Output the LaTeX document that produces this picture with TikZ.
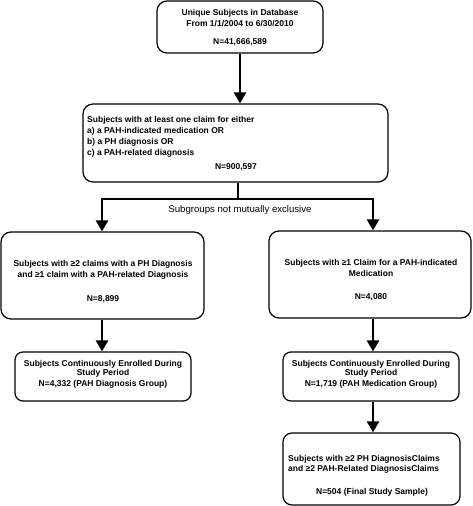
\documentclass[tikz,border=0pt]{standalone}
\usepackage{fontspec}
\setmainfont{Liberation Sans}
\usetikzlibrary{arrows.meta}
\begin{document}
\begin{tikzpicture}[x=1pt,y=-1pt,
  box/.style={draw,line width=1.2pt,rounded corners=10pt,inner sep=0pt},
  btxt/.style={font=\bfseries\fontsize{8.5}{11}\selectfont,inner sep=0pt},
  conn/.style={line width=2.6pt},
  arr/.style={line width=2.6pt,-{Triangle[width=12pt,length=11pt]}}
]
\useasboundingbox (0,0) rectangle (473,506);
% boxes
\node[box,minimum width=166pt,minimum height=52pt] (b1) at (240,27) {};
\node[box,minimum width=305pt,minimum height=78pt] (b2) at (235.5,143) {};
\node[box,minimum width=203pt,minimum height=87pt] (l1) at (102.5,275.5) {};
\node[box,minimum width=202pt,minimum height=87pt] (r1) at (370,274.5) {};
\node[box,rounded corners=8pt,minimum width=176pt,minimum height=49pt] (l2) at (103,376.5) {};
\node[box,rounded corners=8pt,minimum width=176pt,minimum height=49pt] (r2) at (371,376.5) {};
\node[box,rounded corners=9pt,minimum width=177pt,minimum height=72pt] (r3) at (371.5,469) {};
% texts
\node[btxt,align=center] (t1) at (240,28) {Unique Subjects in Database\\From 1/1/2004 to 6/30/2010\\[7pt]N=41,666,589};
\node[btxt,align=left,anchor=west] (t2) at (87,137) {Subjects with at least one claim for either\\a) a PAH-indicated medication OR\\b) a PH diagnosis OR\\c) a PAH-related diagnosis};
\node[btxt] (t2n) at (236,167) {N=900,597};
\node[btxt,align=center] (tl1) at (103,282) {Subjects with ≥2 claims with a PH Diagnosis\\and ≥1 claim with a PAH-related Diagnosis\\[13pt]N=8,899};
\node[btxt,align=center] (tr1) at (371,280.5) {Subjects with ≥1 Claim for a PAH-indicated\\Medication\\[12pt]N=4,080};
\node[btxt,align=center,font=\bfseries\fontsize{8.5}{9.5}\selectfont] (tl2) at (103,374) {Subjects Continuously Enrolled During\\Study Period\\[1pt]N=4,332 (PAH Diagnosis Group)};
\node[btxt,align=center,font=\bfseries\fontsize{8.5}{9.5}\selectfont] (tr2) at (371,374) {Subjects Continuously Enrolled During\\Study Period\\[1pt]N=1,719 (PAH Medication Group)};
\node[btxt,align=left,anchor=west,font=\bfseries\fontsize{8.5}{10}\selectfont] (tr3) at (288,464.5) {Subjects with ≥2 PH DiagnosisClaims\\and ≥2 PAH-Related DiagnosisClaims};
\node[btxt] (tr3n) at (372,492) {N=504 (Final Study Sample)};
\node[font=\fontsize{9.6}{11}\selectfont,inner sep=0pt] (lab) at (240,210) {Subgroups not mutually exclusive};
% connectors
\coordinate (j) at (238,199);
\coordinate (jl) at (102,199);
\coordinate (jr) at (373,199);
\draw[arr] (b1.south -| b1) -- (b2.north -| b1);
\draw[conn] (b2.south -| j) -- (j);
\draw[conn,line cap=rect] (jl) -- (jr);
\draw[arr] (jl) -- (l1.north -| jl);
\draw[arr] (jr) -- (r1.north -| jr);
\draw[arr] (l1.south -| jl) -- (l2.north -| jl);
\draw[arr] (r1.south -| jr) -- (r2.north -| jr);
\draw[arr] (r2.south -| jr) -- (r3.north -| jr);
\end{tikzpicture}
\end{document}
